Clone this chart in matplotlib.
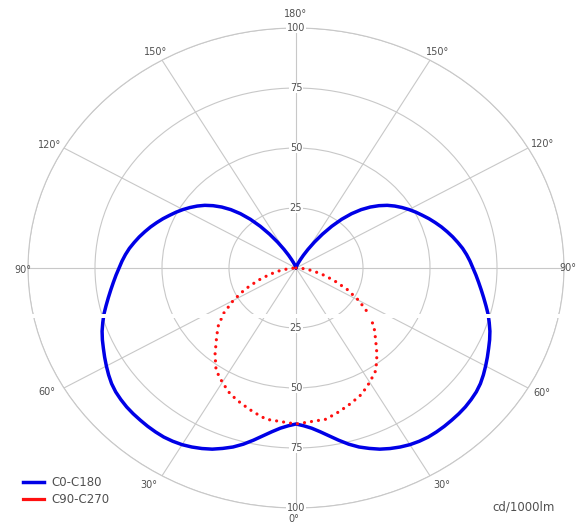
import numpy as np
import matplotlib.pyplot as plt
from matplotlib.lines import Line2D
from matplotlib.patches import Rectangle

# luminous intensity, cd/1000lm, vs gamma angle (0 = straight down)
gamma_c0 = [0, 2.5, 5, 7.5, 10, 12.5, 15, 17.5, 20, 22.5, 25, 27.5, 30, 32.5, 35, 37.5,
            40, 42.5, 45, 47.5, 50, 52.5, 55, 57.5, 60, 62.5, 65, 67.5, 70, 72.5, 75, 77.5,
            80, 82.5, 85, 87.5, 90, 92.5, 95, 97.5, 100, 102.5, 105, 107.5, 110, 112.5,
            115, 117.5, 120, 122.5, 125, 127.5, 130, 132.5, 135, 137.5, 140, 142.5, 145,
            147.5, 150, 152.5, 155, 157.5, 160, 165, 170, 180]
r_c0 = [65, 65.8, 67, 68.8, 71, 73.5, 76, 78.2, 80, 81.7, 83, 84.1, 85, 85.6, 86, 86.1,
        86.1, 86, 85.9, 85.7, 85.3, 84.8, 84, 82.9, 81.7, 80.5, 79.3, 78.2, 77, 75.6, 74.2, 72.6,
        71.1, 69.7, 68.4, 67.2, 66, 65, 63.9, 62.7, 61.3, 59.9, 58.4, 56.9, 55.3, 53.7,
        52, 50.4, 48.7, 46.9, 45, 42.9, 40.4, 37.6, 34.4, 30.7, 26.5, 21.9, 17.2,
        12.8, 9, 6, 3.8, 2.4, 1.4, 0.5, 0, 0]

gamma_c90 = [0, 10, 15, 20, 25, 30, 35, 40, 45, 50, 55, 60, 65, 70, 75, 80, 85, 90]
r_c90 = [65, 64, 62, 60, 58, 55, 52, 47, 42, 38, 33, 27, 21, 15, 10, 6, 2.5, 0]

ring_values = [25, 50, 75, 100]
angle_labels = [0, 30, 60, 90, 120, 150, 180]
series_names = ['C0-C180', 'C90-C270']

grid_col = '#c8c8c8'
txt_col = '#505050'

fig = plt.figure(figsize=(5.82, 5.25), dpi=100)
ax = fig.add_axes([28 / 582, 17 / 525, 536 / 582, 480 / 525], projection='polar')
ax.set_aspect('auto')
ax.set_theta_zero_location('S')
ax.set_theta_direction(-1)
ax.set_ylim(0, 100)
ax.set_xticks(np.deg2rad(np.arange(0, 360, 30)))
ax.set_xticklabels([])
ax.set_yticks(ring_values)
ax.set_yticklabels([])
ax.grid(color=grid_col, linewidth=0.8)
ax.spines['polar'].set_color(grid_col)
ax.spines['polar'].set_linewidth(0.8)

# mirror each plane onto both halves
g0 = np.deg2rad(np.array(gamma_c0))
th0 = np.concatenate([-g0[::-1], g0])
rr0 = np.concatenate([np.array(r_c0)[::-1], r_c0])
ax.plot(th0, rr0, color='#0000e6', linewidth=2.5, solid_capstyle='round',
        solid_joinstyle='round', zorder=3)

g9 = np.deg2rad(np.array(gamma_c90))
th9 = np.concatenate([-g9[::-1], g9])
rr9 = np.concatenate([np.array(r_c90)[::-1], r_c90])
ax.plot(th9, rr9, color='#ff1010', linewidth=2.3, linestyle=(0, (0.01, 2.2)),
        dash_capstyle='round', zorder=4)

# angle labels around the outer ring, offsets in pixels (dx right, dy down)
offs = {0: (-2, 11), 30: (-13, 9), 60: (-17, 4), 90: (-5, 2), 120: (-14, -3), 150: (-6, -8), 180: (0, -14)}
offs_r = {30: (12, 9), 60: (14, 5), 90: (4, 0), 120: (14, -4), 150: (8, -8)}
for a in angle_labels:
    dx, dy = offs[a]
    ax.annotate(f'{a}°', xy=(np.deg2rad(a), 100), xytext=(dx * 0.72, -dy * 0.72),
                textcoords='offset points', ha='center', va='center',
                fontsize=7, color=txt_col, annotation_clip=False)
for a, (dx, dy) in offs_r.items():
    ax.annotate(f'{a}°', xy=(np.deg2rad(-a), 100), xytext=(dx * 0.72, -dy * 0.72),
                textcoords='offset points', ha='center', va='center',
                fontsize=7, color=txt_col, annotation_clip=False)

# radial labels on the vertical axis, up and down
for v in ring_values:
    for a in (0, 180):
        ax.text(np.deg2rad(a), v, str(v), ha='center', va='center', fontsize=7,
                color=txt_col, zorder=5,
                bbox=dict(facecolor='white', edgecolor='none', pad=0.3))

handles = [Line2D([], [], color='#0000e6', linewidth=2.5),
           Line2D([], [], color='#ff1010', linewidth=2.3)]
fig.legend(handles, series_names, loc='lower left', bbox_to_anchor=(12 / 582, 8 / 525),
           frameon=False, fontsize=8.5, handlelength=1.8, handletextpad=0.6,
           labelspacing=0.35, labelcolor=txt_col)
fig.text(555 / 582, 18 / 525, 'cd/1000lm', ha='right', va='center', fontsize=8.5, color=txt_col)

# white scan stripe across the picture
fig.add_artist(Rectangle((0, 207 / 525), 577 / 582, 4 / 525, transform=fig.transFigure,
                         facecolor='white', edgecolor='none', zorder=10))

fig.savefig('out.png', dpi=100)
